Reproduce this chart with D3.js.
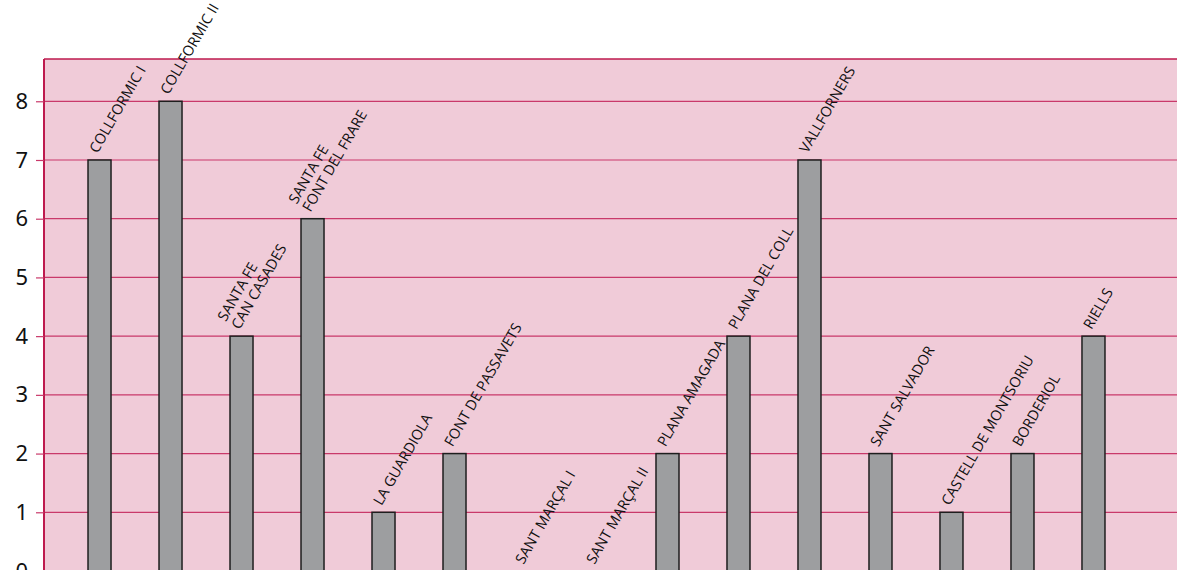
<!DOCTYPE html>
<html>
<head>
<meta charset="utf-8">
<script src="https://cdn.jsdelivr.net/npm/d3@7"></script>
<style>
  body { margin: 0; background: #fff; }
  svg { display: block; }
</style>
</head>
<body>
<div id="viz"></div>
<script>
// categories (multi-line labels split with "|")
var categories = [
    'COLLFORMIC I', 'COLLFORMIC II', 'SANTA FE|CAN CASADES', 'SANTA FE|FONT DEL FRARE',
    'LA GUARDIOLA', 'FONT DE PASSAVETS', 'SANT MARÇAL I', 'SANT MARÇAL II',
    'PLANA AMAGADA', 'PLANA DEL COLL', 'VALLFORNERS', 'SANT SALVADOR',
    'CASTELL DE MONTSORIU', 'BORDERIOL', 'RIELLS'
];
var values = [7, 8, 4, 6, 1, 2, 0, 0, 2, 4, 7, 2, 1, 2, 4];
var yTicks = [0, 1, 2, 3, 4, 5, 6, 7, 8];

var width = 1177,
    height = 570,
    margin = { top: 59, right: 0, bottom: -1, left: 44 };

var svg = d3.select('#viz').append('svg')
    .attr('width', width)
    .attr('height', height);

var yScale = d3.scaleLinear()
    .domain([0, 8.72])
    .range([height - margin.bottom, margin.top]);

var xScale = d3.scaleBand()
    .domain(categories)
    .range([margin.left, 1149])
    .paddingInner(0.676)
    .paddingOuter(0.62);

// plot background
svg.append('rect')
    .attr('x', margin.left)
    .attr('y', margin.top)
    .attr('width', width - margin.left)
    .attr('height', height - margin.top + 10)
    .attr('fill', '#f0cbd8');

// grid lines
svg.append('g')
    .selectAll('line')
    .data(yTicks.filter(function (d) { return d > 0; }))
    .enter().append('line')
    .attr('x1', margin.left)
    .attr('x2', width)
    .attr('y1', function (d) { return yScale(d); })
    .attr('y2', function (d) { return yScale(d); })
    .attr('stroke', '#c9396a')
    .attr('stroke-width', 1.2);

// top border
svg.append('line')
    .attr('x1', margin.left).attr('x2', width)
    .attr('y1', margin.top).attr('y2', margin.top)
    .attr('stroke', '#be1a4e')
    .attr('stroke-width', 1.5);

// y axis
var yAxis = d3.axisLeft(yScale)
    .tickValues(yTicks)
    .tickSize(8)
    .tickPadding(8)
    .tickFormat(d3.format('d'));

var yGuide = svg.append('g')
    .attr('transform', 'translate(' + margin.left + ',0)')
    .call(yAxis);

yGuide.select('.domain')
    .attr('stroke', '#be1a4e')
    .attr('stroke-width', 2)
    .attr('d', 'M0,' + margin.top + 'V' + (height + 5));
yGuide.selectAll('.tick line')
    .attr('stroke', '#c9396a')
    .attr('stroke-width', 1.2);
yGuide.selectAll('.tick text')
    .attr('fill', '#111')
    .style('font-family', '"Noto Sans", sans-serif')
    .style('font-size', '22px');

// bars
svg.append('g')
    .selectAll('rect')
    .data(values)
    .enter().append('rect')
    .attr('x', function (d, i) { return xScale(categories[i]); })
    .attr('y', function (d) { return yScale(d); })
    .attr('width', xScale.bandwidth())
    .attr('height', function (d) { return yScale(0) - yScale(d) + 10; })
    .attr('fill', '#9d9ea0')
    .attr('stroke', '#1e1e1e')
    .attr('stroke-width', 1.5);

// rotated labels
var lh = 16;
var labels = svg.append('g')
    .selectAll('text')
    .data(values)
    .enter().append('text')
    .attr('transform', function (d, i) {
        var x = xScale(categories[i]) + xScale.bandwidth() / 2 - 2;
        var y = yScale(d) - 6;
        return 'translate(' + x + ',' + y + ') rotate(-60)';
    })
    .style('font-family', '"Open Sans", sans-serif')
    .style('font-size', '14.5px')
    .attr('fill', '#111');

labels.each(function (d, i) {
    var lines = categories[i].split('|');
    var t = d3.select(this);
    lines.forEach(function (line, j) {
        t.append('tspan')
            .attr('x', 0)
            .attr('y', -(lines.length - 1 - j) * lh)
            .text(line);
    });
});
</script>
</body>
</html>
